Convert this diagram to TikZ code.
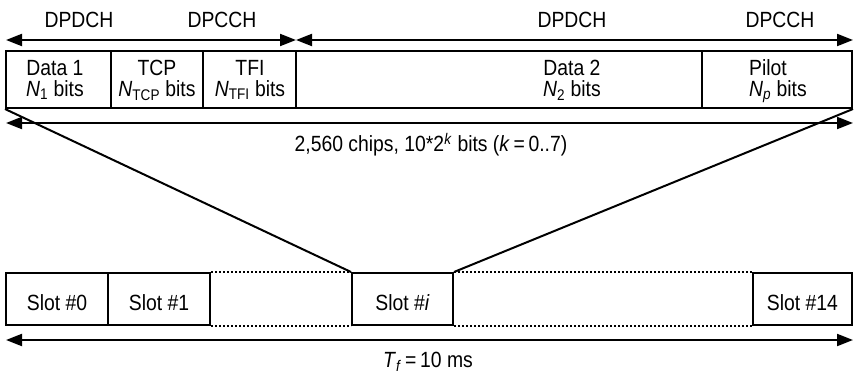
\documentclass[tikz,border=0pt]{standalone}
\usepackage{fontspec}
\setmainfont{Liberation Sans}[FakeStretch=0.88]
\usetikzlibrary{arrows.meta}

\begin{document}
\begin{tikzpicture}[x=1pt,y=-1pt,
  every node/.style={font=\fontsize{22}{21}\selectfont, inner sep=0pt},
  txt/.style={anchor=base},
  field/.style={draw, line width=2pt, minimum height=57pt},
  slotbox/.style={draw, line width=2pt, minimum height=52pt},
  span/.style={line width=2pt, {Triangle[length=16pt,width=12pt]}-{Triangle[length=16pt,width=12pt]}},
  fan/.style={line width=2pt},
  gap/.style={line width=1.6pt, dash pattern=on 2pt off 2pt},
]
\useasboundingbox (0,0) rectangle (856,374);

% slot fields
\node[field, minimum width=105pt] (d1)  at (58.5,79.5)  {};
\node[field, minimum width=92pt]  (tcp) at (157,79.5)   {};
\node[field, minimum width=93pt]  (tfi) at (249.5,79.5) {};
\node[field, minimum width=406pt] (d2)  at (499,79.5)   {};
\node[field, minimum width=150pt] (pil) at (777,79.5)   {};

\node[txt] (d1a)  at (55,75.5)  {Data 1};
\node[txt] (d1b)  at (55,96.5)  {\textit{N}\textsubscript{1} bits};
\node[txt] (tcpa) at (157,75.5) {TCP};
\node[txt] (tcpb) at (157,96.5) {\textit{N}\textsubscript{TCP} bits};
\node[txt] (tfia) at (250,75.5) {TFI};
\node[txt] (tfib) at (250,96.5) {\textit{N}\textsubscript{TFI} bits};
\node[txt] (d2a)  at (572,75.5) {Data 2};
\node[txt] (d2b)  at (572,96.5) {\textit{N}\textsubscript{2} bits};
\node[txt, anchor=base west] (pila) at (749,75.5) {Pilot};
\node[txt, anchor=base west] (pilb) at (749,96.5) {\textit{N}\textsubscript{\textit{p}} bits};

% channel labels
\node[txt] (ch1) at (79,27.5)  {DPDCH};
\node[txt] (ch2) at (222,27.5) {DPCCH};
\node[txt] (ch3) at (572,27.5) {DPDCH};
\node[txt] (ch4) at (780,27.5) {DPCCH};

\coordinate (a1) at (6,40);
\coordinate (a2) at (296,40);
\coordinate (a3) at (853,40);
\draw[span] (a1) -- (a2);
\draw[span] (a2) -- (a3);

% slot length
\coordinate (s1) at (6,123);
\coordinate (s2) at (853,123);
\draw[span] (s1) -- (s2);
\node[txt] (slen) at (431,152) {2,560 chips, 10*2\textsuperscript{\textit{k}} bits (\textit{k}\,=\,0..7)};

% frame slots
\node[slotbox, minimum width=102pt] (sl0)  at (57,299)    {};
\node[slotbox, minimum width=102pt] (sl1)  at (159,299)   {};
\node[slotbox, minimum width=101pt] (sli)  at (402.5,299) {};
\node[slotbox, minimum width=99pt]  (sl14) at (802.5,299) {};

\node[txt] (sl0t)  at (57,310)    {Slot \#0};
\node[txt] (sl1t)  at (159,310)   {Slot \#1};
\node[txt] (slit)  at (402.5,310) {Slot \#\textit{i}};
\node[txt] (sl14t) at (802.5,310) {Slot \#14};

\draw[gap] (sl1.north east) -- (sli.north west);
\draw[gap] (sl1.south east) -- (sli.south west);
\draw[gap] (sli.north east) -- (sl14.north west);
\draw[gap] (sli.south east) -- (sl14.south west);

% expansion of slot #i
\draw[fan] (d1.south west) -- (sli.north west);
\draw[fan] (pil.south east) -- (sli.north east);

% frame length
\coordinate (f1) at (6,340);
\coordinate (f2) at (853,340);
\draw[span] (f1) -- (f2);
\node[txt] (flen) at (428,367.5) {\textit{T}\textsubscript{\textit{f}}\,=\,10 ms};
\end{tikzpicture}
\end{document}
